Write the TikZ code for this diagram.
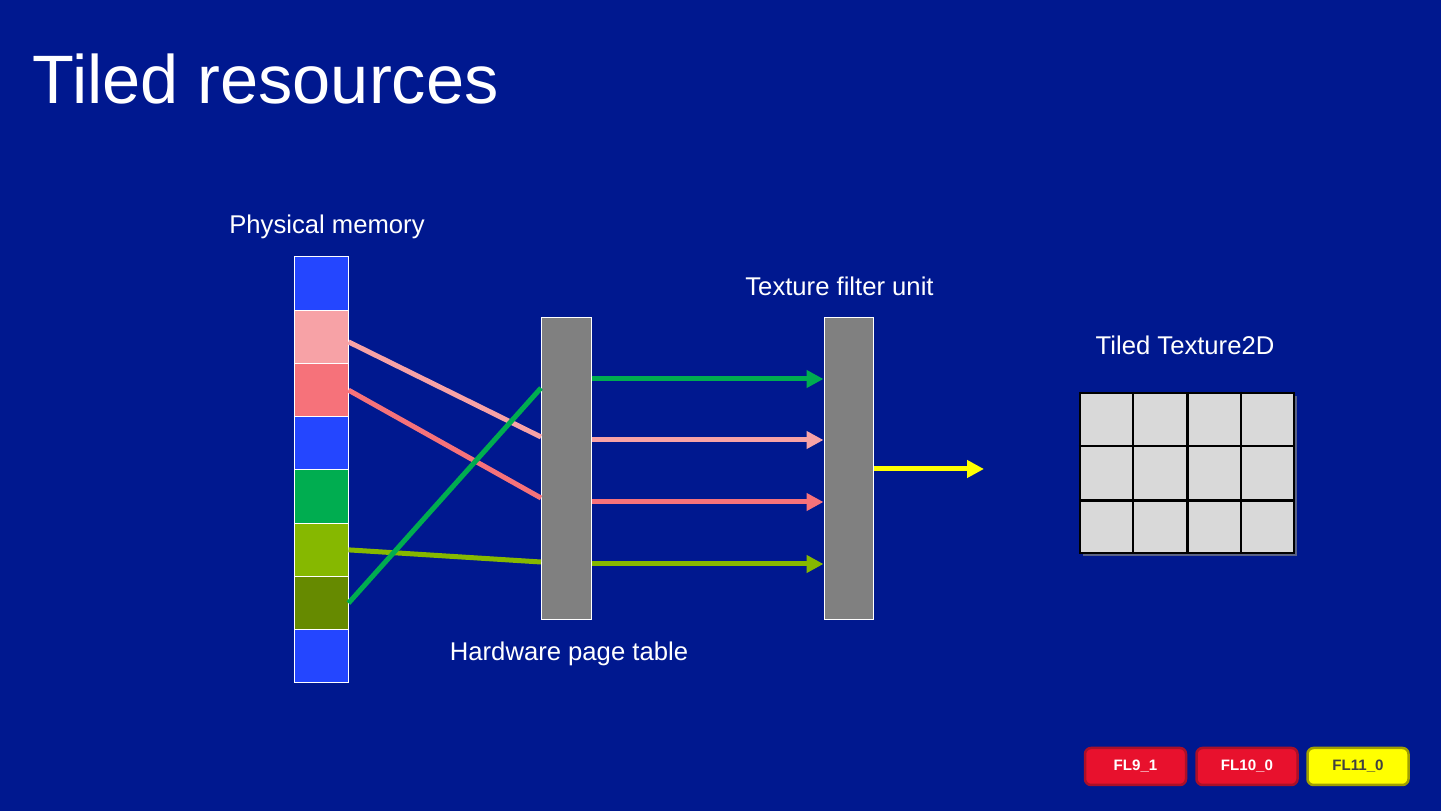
\documentclass[tikz,border=0pt]{standalone}
\usepackage{fontspec}
\setmainfont{Liberation Sans}
\usetikzlibrary{positioning,calc,arrows.meta,shadows}
\definecolor{slidebg}{RGB}{0,24,143}
\definecolor{memblue}{RGB}{36,70,255}
\definecolor{mempink}{RGB}{247,162,166}
\definecolor{memsalmon}{RGB}{246,114,122}
\definecolor{memgreen}{RGB}{0,173,80}
\definecolor{memlime}{RGB}{134,184,0}
\definecolor{memolive}{RGB}{102,138,0}
\definecolor{unitgray}{RGB}{128,128,128}
\definecolor{flred}{RGB}{232,17,45}
\definecolor{flredline}{RGB}{170,16,40}
\definecolor{flyellow}{RGB}{255,255,0}
\definecolor{flyellowline}{RGB}{160,160,0}

\begin{document}
\begin{tikzpicture}[
        x=0.1mm, y=-0.1mm,
        cell/.style={rectangle,draw=white,line width=0.1mm,inner sep=0pt,minimum width=5.4mm,minimum height=5.325mm},
        unit/.style={rectangle,draw=white,line width=0.1mm,fill=unitgray,inner sep=0pt,minimum width=5mm,minimum height=30.2mm},
        lbl/.style={text=white,inner sep=0pt,text depth=0pt,font=\fontsize{7.3pt}{8pt}\selectfont},
        wire/.style={line width=0.5mm},
        arr/.style={line width=0.5mm,-{Triangle[length=1.7mm,width=1.7mm]}},
        gridline/.style={black,line width=0.2mm},
        badge/.style={rectangle,rounded corners=0.6mm,line width=0.25mm,minimum width=10.1mm,minimum height=3.7mm,inner sep=0pt,font=\fontsize{4.3pt}{5pt}\selectfont\bfseries}
    ]
    \fill[slidebg] (0,0) rectangle (1441,811);
    \node[anchor=base west,text=white,inner sep=0pt,font=\fontsize{19.5pt}{22pt}\selectfont] (title) at (32,104) {Tiled resources};

    % physical memory column
    \foreach \c [count=\i] in {memblue,mempink,memsalmon,memblue,memgreen,memlime,memolive,memblue}
        \node[cell,fill=\c] (cell\i) at (321,{257+53.25*(\i-0.5)}) {};
    \node[lbl,above=2.2mm of cell1,xshift=0.6mm] (memlabel) {Physical memory};

    % page table and filter unit
    \node[unit] (pagetable) at (566,469) {};
    \node[unit,minimum width=4.9mm] (filterunit) at (848.5,469) {};
    \node[lbl,below=2.1mm of pagetable,xshift=0.3mm] (ptlabel) {Hardware page table};
    \node[lbl,above=2.1mm of filterunit,xshift=-0.9mm] (fulabel) {Texture filter unit};

    % where the wires hit the page table
    \coordinate (hit1) at (541,437);
    \coordinate (hit2) at (541,498);
    \coordinate (hit3) at (541,388);
    \coordinate (hit4) at (541,562);
    \coordinate (row1) at (0,379);
    \coordinate (row2) at (0,440);
    \coordinate (row3) at (0,502);
    \coordinate (row4) at (0,564);
    \coordinate (texout) at (984,469);

    \draw[wire,mempink] ([yshift=-0.5mm]cell2.east) -- (hit1);
    \draw[wire,memsalmon] (cell3.east) -- (hit2);
    \draw[wire,memlime] (cell6.east) -- (hit4);
    \draw[wire,memgreen] (cell7.east) -- (hit3);

    \draw[arr,memgreen] (pagetable.east |- row1) -- (filterunit.west |- row1);
    \draw[arr,mempink] (pagetable.east |- row2) -- (filterunit.west |- row2);
    \draw[arr,memsalmon] (pagetable.east |- row3) -- (filterunit.west |- row3);
    \draw[arr,memlime] (pagetable.east |- row4) -- (filterunit.west |- row4);
    \draw[arr,flyellow] (filterunit.east) -- (texout);

    % tiled texture
    \node[rectangle,draw=black,line width=0.25mm,fill=black!15,inner sep=0pt,minimum width=21.4mm,minimum height=16mm,
          drop shadow={shadow xshift=0.3mm,shadow yshift=-0.3mm,opacity=0.7}] (texgrid) at (1187,473) {};
    \foreach \f/\w in {0.25/0.2mm,0.5/0.3mm,0.75/0.2mm}
        \draw[gridline,line width=\w] ($(texgrid.north west)!\f!(texgrid.north east)$) -- ($(texgrid.south west)!\f!(texgrid.south east)$);
    \foreach \f/\w in {0.3333/0.2mm,0.6667/0.3mm}
        \draw[gridline,line width=\w] ($(texgrid.north west)!\f!(texgrid.south west)$) -- ($(texgrid.north east)!\f!(texgrid.south east)$);
    \node[lbl,above=3.7mm of texgrid,xshift=-0.2mm] (texlabel) {Tiled Texture2D};

    % feature levels
    \node[badge,fill=flred,draw=flredline,text=white] (fl91) at (1135.5,766.5) {FL9\_1};
    \node[badge,fill=flred,draw=flredline,text=white] (fl100) at (1247,766.5) {FL10\_0};
    \node[badge,fill=flyellow,draw=flyellowline,text=black!75] (fl110) at (1358,766.5) {FL11\_0};
\end{tikzpicture}
\end{document}
